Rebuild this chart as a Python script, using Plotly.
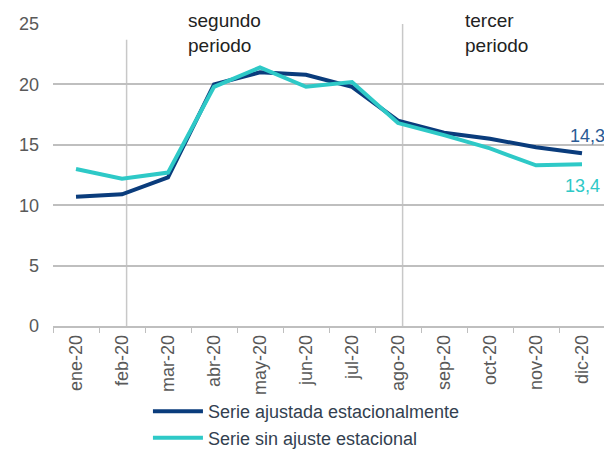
import plotly.graph_objects as go

meses = ["ene-20", "feb-20", "mar-20", "abr-20", "may-20", "jun-20",
         "jul-20", "ago-20", "sep-20", "oct-20", "nov-20", "dic-20"]
serie_ajustada = [10.7, 10.9, 12.3, 20.0, 21.0, 20.8, 19.8, 17.0, 16.0, 15.5, 14.8, 14.3]
serie_sin_ajuste = [13.0, 12.2, 12.7, 19.8, 21.4, 19.8, 20.2, 16.8, 15.8, 14.7, 13.3, 13.4]

AZUL = "#0a3c7c"
TURQ = "#2ec9c7"
GRIS = "#595959"

fig = go.Figure()
fig.add_trace(go.Scatter(x=meses, y=serie_ajustada, mode="lines",
                         name="Serie ajustada estacionalmente",
                         line=dict(color=AZUL, width=4)))
fig.add_trace(go.Scatter(x=meses, y=serie_sin_ajuste, mode="lines",
                         name="Serie sin ajuste estacional",
                         line=dict(color=TURQ, width=4)))

# lineas verticales que separan los periodos
fig.add_shape(type="line", xref="x", yref="y", x0=1.1, x1=1.1, y0=0, y1=23.7,
              line=dict(color="#c8c8c8", width=1.5), layer="below")
fig.add_shape(type="line", xref="x", yref="y", x0=7.1, x1=7.1, y0=0, y1=25,
              line=dict(color="#c8c8c8", width=1.5), layer="below")

fig.add_annotation(x=2.4, y=1.052, xref="x", yref="paper", text="segundo<br>periodo",
                   showarrow=False, xanchor="left", yanchor="top", align="left",
                   font=dict(size=19, color="#222222"))
fig.add_annotation(x=8.42, y=1.052, xref="x", yref="paper", text="tercer<br>periodo",
                   showarrow=False, xanchor="left", yanchor="top", align="left",
                   font=dict(size=19, color="#222222"))

fig.add_annotation(x=11, y=serie_ajustada[-1], text="14,3", showarrow=False,
                   xanchor="center", yanchor="middle", xshift=5, yshift=17,
                   font=dict(size=18, color="#2a5a94"))
fig.add_annotation(x=11, y=serie_sin_ajuste[-1], text="13,4", showarrow=False,
                   xanchor="center", yanchor="middle", xshift=0, yshift=-22,
                   font=dict(size=18, color=TURQ))

# la pagina tiene 8px de margen en el body, por eso 604x441
fig.update_layout(
    width=604, height=441,
    margin=dict(l=45, r=7, t=16, b=123, autoexpand=False),
    paper_bgcolor="white", plot_bgcolor="white",
    font=dict(family="Liberation Sans, Arial", size=16, color=GRIS),
    showlegend=True,
    legend=dict(x=0.172, y=-0.222, xanchor="left", yanchor="top",
                orientation="v", tracegroupgap=0,
                font=dict(size=18, color="#333f50"),
                itemwidth=50, bgcolor="rgba(0,0,0,0)"),
)
fig.update_xaxes(type="category", showgrid=False, showline=True, automargin=False,
                 linecolor="#bfbfbf", linewidth=1.5, ticks="outside",
                 tickson="boundaries", ticklen=5, tickcolor="#bfbfbf",
                 tickangle=-90, tickfont=dict(size=18, color=GRIS),
                 range=[-0.5, 11.5])
fig.update_yaxes(range=[0, 25], dtick=5, showgrid=True, gridcolor="#bfbfbf",
                 gridwidth=1.5, zeroline=False, showline=False, automargin=False,
                 ticklabelstandoff=13, tickfont=dict(size=18, color=GRIS))

fig.write_html("out.html")
